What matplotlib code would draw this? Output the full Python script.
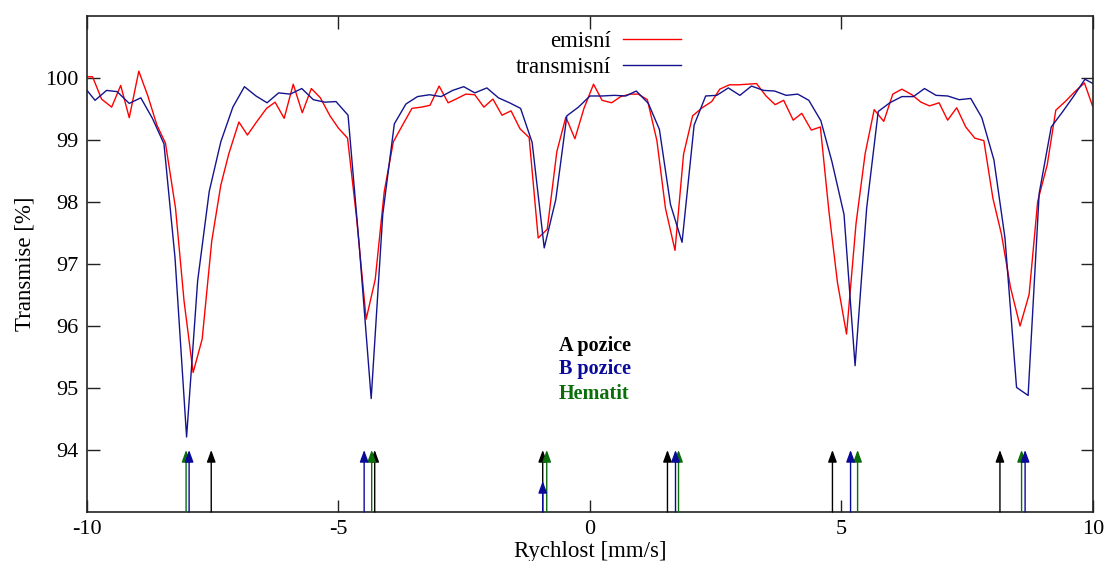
import matplotlib.pyplot as plt

# emission spectrum (red)
v_emis = [-10.0, -9.89, -9.71, -9.51, -9.33, -9.16, -8.97, -8.79, -8.61, -8.44,
          -8.24, -8.07, -7.89, -7.71, -7.52, -7.34, -7.18, -6.98, -6.81, -6.63,
          -6.43, -6.26, -6.08, -5.90, -5.72, -5.54, -5.36, -5.17, -5.00, -4.82,
          -4.64, -4.45, -4.27, -4.09, -3.91, -3.72, -3.54, -3.35, -3.18, -3.00,
          -2.82, -2.64, -2.47, -2.29, -2.11, -1.93, -1.75, -1.57, -1.39, -1.21,
          -1.03, -0.85, -0.66, -0.48, -0.30, -0.12, 0.07, 0.24, 0.43, 0.61,
          0.80, 0.96, 1.14, 1.33, 1.50, 1.69, 1.86, 2.04, 2.23, 2.42,
          2.58, 2.77, 2.95, 3.13, 3.31, 3.50, 3.68, 3.85, 4.04, 4.21,
          4.40, 4.58, 4.75, 4.92, 5.10, 5.29, 5.47, 5.65, 5.84, 6.02,
          6.20, 6.40, 6.58, 6.75, 6.94, 7.11, 7.29, 7.47, 7.65, 7.83,
          8.01, 8.18, 8.36, 8.55, 8.73, 8.90, 9.09, 9.26, 9.46, 9.64,
          9.83, 9.99]
t_emis = [100.02, 100.02, 99.66, 99.53, 99.88, 99.36, 100.11, 99.71, 99.24, 98.95,
          97.90, 96.40, 95.25, 95.79, 97.37, 98.27, 98.78, 99.29, 99.08, 99.29,
          99.51, 99.61, 99.35, 99.90, 99.44, 99.83, 99.68, 99.39, 99.19, 99.03,
          97.74, 96.11, 96.75, 98.17, 98.97, 99.25, 99.51, 99.53, 99.56, 99.87,
          99.60, 99.67, 99.74, 99.73, 99.53, 99.66, 99.40, 99.47, 99.18, 99.04,
          97.42, 97.56, 98.81, 99.37, 99.02, 99.51, 99.90, 99.64, 99.60, 99.70,
          99.74, 99.74, 99.65, 98.99, 97.90, 97.22, 98.77, 99.39, 99.52, 99.62,
          99.82, 99.89, 99.89, 99.90, 99.91, 99.71, 99.57, 99.64, 99.32, 99.43,
          99.16, 99.21, 97.85, 96.70, 95.87, 97.66, 98.78, 99.49, 99.30, 99.74,
          99.82, 99.73, 99.61, 99.55, 99.60, 99.32, 99.52, 99.21, 99.03, 98.99,
          98.06, 97.48, 96.62, 96.00, 96.51, 98.01, 98.60, 99.48, 99.63, 99.78,
          99.92, 99.55]

# transmission spectrum (blue)
v_trans = [-10.0, -9.84, -9.61, -9.40, -9.16, -8.93, -8.70, -8.47, -8.25, -8.02,
           -7.80, -7.57, -7.34, -7.10, -6.87, -6.64, -6.42, -6.19, -5.96, -5.73,
           -5.50, -5.27, -5.05, -4.81, -4.59, -4.35, -4.12, -3.89, -3.66, -3.43,
           -3.19, -2.96, -2.73, -2.51, -2.29, -2.05, -1.82, -1.60, -1.38, -1.15,
           -0.91, -0.68, -0.46, -0.23, 0.00, 0.24, 0.48, 0.71, 0.92, 1.16,
           1.38, 1.60, 1.83, 2.07, 2.30, 2.52, 2.75, 2.98, 3.21, 3.45,
           3.67, 3.90, 4.13, 4.35, 4.59, 4.81, 5.05, 5.27, 5.50, 5.73,
           5.96, 6.20, 6.43, 6.65, 6.88, 7.11, 7.34, 7.57, 7.79, 8.03,
           8.25, 8.48, 8.71, 8.93, 9.17, 9.40, 9.61, 9.84, 10.0]
t_trans = [99.80, 99.64, 99.80, 99.78, 99.59, 99.68, 99.35, 98.94, 97.10, 94.21,
           96.73, 98.17, 98.97, 99.53, 99.86, 99.71, 99.60, 99.76, 99.74, 99.83,
           99.65, 99.61, 99.62, 99.40, 97.32, 94.83, 97.80, 99.26, 99.58, 99.70,
           99.73, 99.70, 99.80, 99.86, 99.76, 99.84, 99.68, 99.60, 99.51, 98.96,
           97.26, 98.04, 99.39, 99.53, 99.71, 99.71, 99.72, 99.71, 99.79, 99.59,
           99.17, 97.96, 97.35, 99.24, 99.71, 99.72, 99.84, 99.72, 99.87, 99.80,
           99.79, 99.72, 99.74, 99.64, 99.31, 98.65, 97.80, 95.36, 97.90, 99.46,
           99.60, 99.70, 99.70, 99.83, 99.72, 99.71, 99.65, 99.67, 99.36, 98.68,
           97.42, 95.01, 94.88, 98.14, 99.21, 99.46, 99.70, 99.98, 99.91]

# line positions
pos_a = [-7.53, -4.28, -0.94, 1.54, 4.82, 8.15]
pos_b = [-7.97, -4.49, -0.94, 1.70, 5.18, 8.65]
pos_b_top = [94.0, 94.0, 93.5, 94.0, 94.0, 94.0]
pos_hem = [-8.03, -4.34, -0.86, 1.76, 5.32, 8.58]

red = '#ff0000'
blue = '#14148f'
c_a = '#000000'
c_b = '#0a0a9a'
c_hem = '#0a6e0a'

plt.rcParams['font.family'] = ['Liberation Serif', 'DejaVu Serif']
plt.rcParams['axes.unicode_minus'] = False

fig = plt.figure(figsize=(11.11, 5.61), dpi=100)
ax = fig.add_axes([0.0783, 0.0873, 0.9055, 0.8842])

ax.plot(v_emis, t_emis, color=red, lw=1.0, label='emisní')
ax.plot(v_trans, t_trans, color=blue, lw=1.0, label='transmisní')


def arrows(xs, tops, color):
    for x, top in zip(xs, tops):
        ax.annotate('', xy=(x, top), xytext=(x, 93.0),
                    arrowprops=dict(arrowstyle='-|>,head_length=0.6,head_width=0.22',
                                    color=color, lw=1.0, shrinkA=0, shrinkB=0,
                                    mutation_scale=12))


arrows(pos_a, [94.0] * len(pos_a), c_a)
arrows(pos_hem, [94.0] * len(pos_hem), c_hem)
arrows(pos_b, pos_b_top, c_b)

ax.text(-0.62, 95.68, 'A pozice', color=c_a, fontsize=14.5, fontweight='bold', va='center')
ax.text(-0.62, 95.30, 'B pozice', color=c_b, fontsize=14.5, fontweight='bold', va='center')
ax.text(-0.62, 94.90, 'Hematit', color=c_hem, fontsize=14.5, fontweight='bold', va='center')

ax.set_xlim(-10, 10)
ax.set_ylim(93, 101)
ax.set_xticks([-10, -5, 0, 5, 10])
ax.set_yticks([94, 95, 96, 97, 98, 99, 100])
ax.tick_params(direction='in', length=9, width=1, top=True, right=True,
               labelsize=16, pad=6, color='#222222')
for s in ax.spines.values():
    s.set_color('#222222')
    s.set_linewidth(1.2)

ax.set_xlabel('Rychlost [mm/s]', fontsize=16.5, labelpad=1)
ax.set_ylabel('Transmise [%]', fontsize=16.5, labelpad=7)

ax.legend(loc='upper right', bbox_to_anchor=(0.59, 0.97), frameon=False,
          markerfirst=False, fontsize=16.5, handlelength=2.5, handletextpad=0.55,
          labelspacing=0.2, borderpad=0, borderaxespad=0)

plt.savefig('out.png', dpi=100)
